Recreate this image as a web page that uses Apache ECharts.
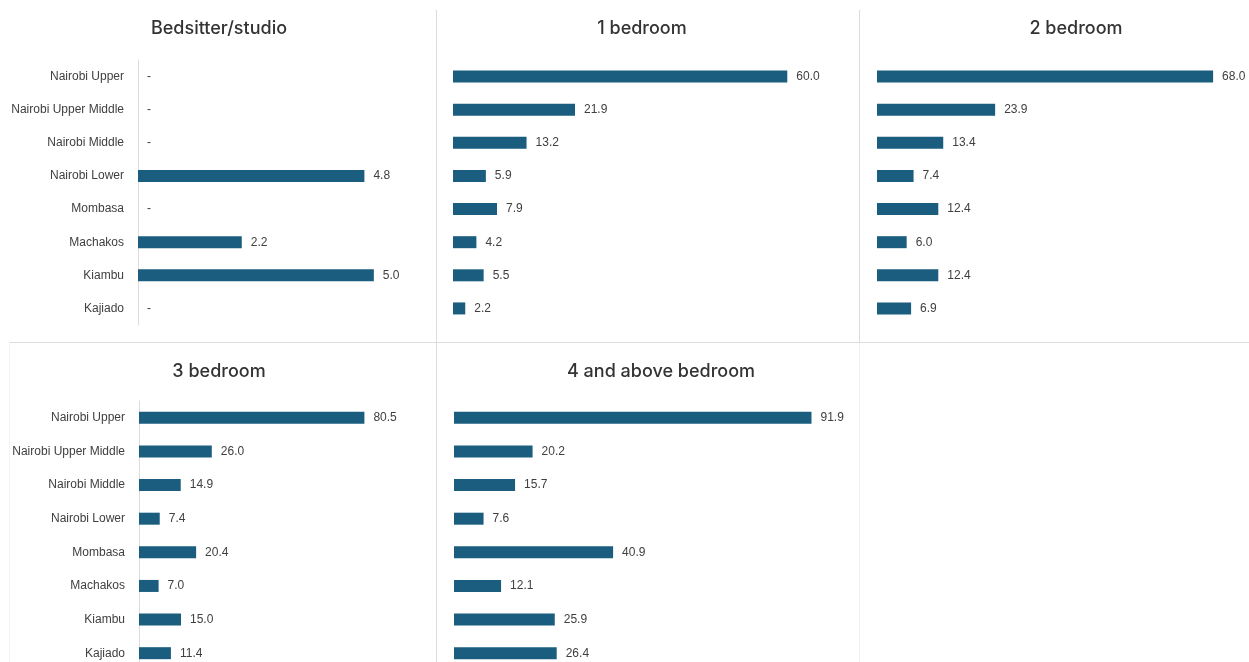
<!DOCTYPE html>
<html>
<head>
<meta charset="utf-8">
<script src="https://cdn.jsdelivr.net/npm/echarts@6/dist/echarts.min.js"></script>
<style>
  html, body { margin: 0; padding: 0; background: #fff; }
  #main { width: 1249px; height: 662px; }
</style>
</head>
<body>
<div id="main"></div>
<script>
// regions, top to bottom
var regions = ['Nairobi Upper', 'Nairobi Upper Middle', 'Nairobi Middle', 'Nairobi Lower',
  'Mombasa', 'Machakos', 'Kiambu', 'Kajiado'];

var titles = ['Bedsitter/studio', '1 bedroom', '2 bedroom', '3 bedroom', '4 and above bedroom'];

var studio = [0, 0, 0, 4.8, 0, 2.2, 5.0, 0];
var bed1 = [60.0, 21.9, 13.2, 5.9, 7.9, 4.2, 5.5, 2.2];
var bed2 = [68.0, 23.9, 13.4, 7.4, 12.4, 6.0, 12.4, 6.9];
var bed3 = [80.5, 26.0, 14.9, 7.4, 20.4, 7.0, 15.0, 11.4];
var bed4 = [91.9, 20.2, 15.7, 7.6, 40.9, 12.1, 25.9, 26.4];

var seriesData = [studio, bed1, bed2, bed3, bed4];
var axisMax = [6, 70, 70, 100, 100];

// panel layout
var grids = [
  { left: 138, top: 60, width: 283, height: 265 },
  { left: 453, top: 60, width: 390, height: 265 },
  { left: 877, top: 60, width: 346, height: 265 },
  { left: 139, top: 401, width: 280, height: 269 },
  { left: 454, top: 401, width: 389, height: 269 }
];
var titlePos = [[214, 15], [637, 15], [1071, 15], [214, 358], [656, 358]];
var showCats = [true, false, false, true, false];

var barColor = '#1a5d7e';
var lineColor = '#dcdcdc';

var chartDom = document.getElementById('main');
var myChart = echarts.init(chartDom);

var option = {
  animation: false,
  title: titles.map(function (t, i) {
    return {
      text: t,
      left: titlePos[i][0],
      top: titlePos[i][1],
      textAlign: 'center',
      textStyle: { fontFamily: 'Inter', fontSize: 18, fontWeight: 500, color: '#333' }
    };
  }),
  grid: grids.map(function (g) {
    return {
      left: g.left, top: g.top, width: g.width, height: g.height,
      containLabel: false, outerBoundsMode: 'none'
    };
  }),
  xAxis: grids.map(function (g, i) {
    return {
      type: 'value', gridIndex: i, min: 0, max: axisMax[i],
      show: false
    };
  }),
  yAxis: grids.map(function (g, i) {
    return {
      type: 'category', gridIndex: i, data: regions, inverse: true,
      axisLine: { show: showCats[i], lineStyle: { color: lineColor, width: 1 } },
      axisTick: { show: false },
      axisLabel: {
        show: showCats[i], margin: 14, color: '#404040',
        fontFamily: 'Liberation Sans, Arial', fontSize: 12
      }
    };
  }),
  series: seriesData.map(function (d, i) {
    return {
      type: 'bar', xAxisIndex: i, yAxisIndex: i, data: d,
      barWidth: 12,
      itemStyle: { color: barColor },
      label: {
        show: true, position: 'right', distance: 9,
        color: '#404040', fontFamily: 'Liberation Sans, Arial', fontSize: 12,
        formatter: function (p) { return p.value === 0 ? '-' : p.value.toFixed(1); }
      }
    };
  }),
  graphic: [
    { type: 'line', shape: { x1: 436.5, y1: 10, x2: 436.5, y2: 662 }, style: { stroke: lineColor, lineWidth: 1 } },
    { type: 'line', shape: { x1: 859.5, y1: 10, x2: 859.5, y2: 342 }, style: { stroke: lineColor, lineWidth: 1 } },
    { type: 'line', shape: { x1: 859.5, y1: 342, x2: 859.5, y2: 662 }, style: { stroke: '#efefef', lineWidth: 1 } },
    { type: 'line', shape: { x1: 9, y1: 342.5, x2: 1249, y2: 342.5 }, style: { stroke: lineColor, lineWidth: 1 } },
    { type: 'line', shape: { x1: 9.5, y1: 342, x2: 9.5, y2: 662 }, style: { stroke: '#f2f2f2', lineWidth: 1 } }
  ]
};

myChart.setOption(option);
</script>
</body>
</html>
